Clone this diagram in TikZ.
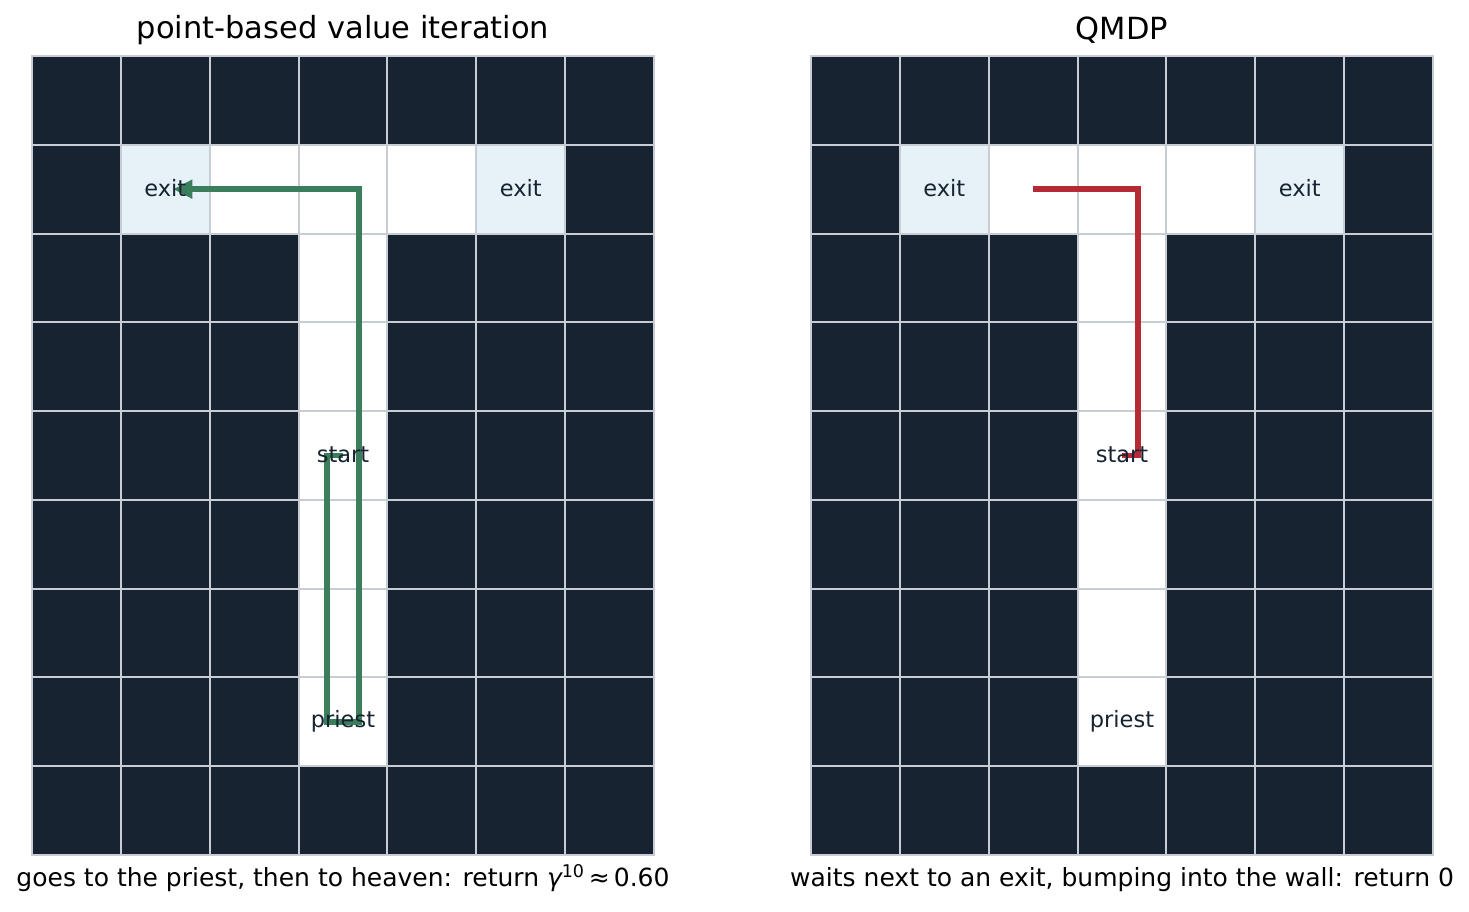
\documentclass[tikz,border=0pt]{standalone}
\usepackage{fontspec}
\setmainfont{DejaVu Sans}
\usepackage{xcolor}
\definecolor{wall}{RGB}{23, 35, 48}
\definecolor{exitcell}{RGB}{230, 241, 248}
\definecolor{gridline}{RGB}{200, 205, 213}
\definecolor{pbvi}{RGB}{58, 126, 91}
\definecolor{qmdp}{RGB}{182, 42, 54}
\usetikzlibrary{calc,arrows.meta}

\tikzset{
  cellbox/.style = {
    draw           = gridline,
    line width     = 2pt,
    fill           = wall,
    minimum width  = 88.86pt,
    minimum height = 88.78pt,
    inner sep      = 0pt,
    outer sep      = 0pt
  },
  floorbox/.style    = {cellbox, fill = white},
  exitbox/.style     = {cellbox, fill = exitcell},
  celltext/.style    = {text = wall, font = \fontsize{22.5}{27}\selectfont},
  titletext/.style   = {font = \fontsize{30.5}{36}\selectfont},
  captiontext/.style = {font = \fontsize{25}{30}\selectfont},
  route/.style       = {line width = 5.8pt}
}

\begin{document}
\begin{tikzpicture}[x=1pt, y=-1pt]
  \useasboundingbox (0,0) rectangle (1469,911);

  \foreach \g/\gx in {L/32, R/811}{
    \foreach \c in {0,...,6}{
      \foreach \r in {0,...,8}{
        \node[cellbox] (\g-\c-\r) at (\gx+44.43+\c*88.86, 100.39+\r*88.78) {};
      }
    }
    \foreach \c/\r in {2/1, 3/1, 4/1, 3/2, 3/3, 3/4, 3/5, 3/6, 3/7}{
      \node[floorbox] (\g-floor-\c-\r) at (\g-\c-\r) {};
    }
    \node[exitbox] (\g-exitwest) at (\g-1-1) {};
    \node[exitbox] (\g-exiteast) at (\g-5-1) {};
  }

  \draw[route, pbvi, -{Triangle[length=19pt, width=18pt]}]
    (L-3-4.center) -- ($(L-3-4)+(-16,0)$) -- ($(L-3-7)+(-16,0)$)
    -- ($(L-3-7)+(16,0)$) -- ($(L-3-1)+(16,0)$) -- ($(L-1-1)+(8,0)$);
  \draw[route, qmdp]
    (R-3-4.center) -- ($(R-3-4)+(16,0)$) -- ($(R-3-1)+(16,0)$) -- (R-2-1.center);

  \foreach \g in {L, R}{
    \node[celltext] (\g-exitA) at ($(\g-1-1)+(0,-1)$) {exit};
    \node[celltext] (\g-exitB) at ($(\g-5-1)+(0,-1)$) {exit};
    \node[celltext] (\g-start) at ($(\g-3-4)+(0,-1)$) {start};
    \node[celltext] (\g-priest) at ($(\g-3-7)+(0,-1)$) {priest};
  }

  \node[titletext] (L-title) at ($(L-3-0.north)+(0,-26)$) {point-based value iteration};
  \node[titletext] (R-title) at ($(R-3-0.north)+(0,-26)$) {QMDP};

  \node[captiontext] (L-caption) at ($(L-3-8.south)+(0,23)$)
    {goes to the priest, then to heaven: return {\itshape γ}\textsuperscript{10}\,≈\,0.60};
  \node[captiontext] (R-caption) at ($(R-3-8.south)+(0,25)$)
    {waits next to an exit, bumping into the wall: return 0};
\end{tikzpicture}
\end{document}
